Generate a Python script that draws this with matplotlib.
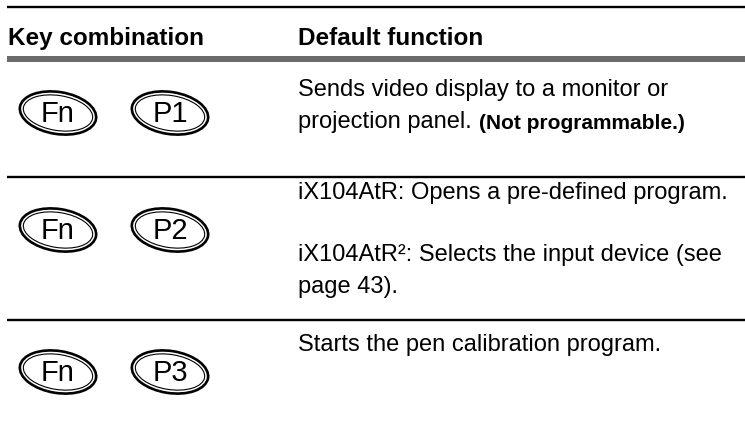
import matplotlib
matplotlib.use("Agg")
import matplotlib.pyplot as plt
from matplotlib.patches import Ellipse

plt.rcParams['font.family'] = ['Liberation Sans', 'DejaVu Sans']

# table content
headers = ["Key combination", "Default function"]
keys = [("Fn", "P1"), ("Fn", "P2"), ("Fn", "P3")]
row1_lines = ["Sends video display to a monitor or", "projection panel."]
row1_bold = "(Not programmable.)"
row2_lines = ["iX104AtR: Opens a pre-defined program.",
              "iX104AtR\u00b2: Selects the input device (see",
              "page 43)."]
row3_lines = ["Starts the pen calibration program."]

# layout (pixels)
W, H = 745, 430
key_x = [58, 170]
key_y = [113, 230, 372]
text_x = 298
row_baselines = [[96, 128], [199, 261, 293], [351]]
rule_y = [177, 320]

fig = plt.figure(figsize=(W / 100, H / 100), dpi=100)
ax = fig.add_axes([0, 0, 1, 1])
ax.set_xlim(0, W)
ax.set_ylim(H, 0)
ax.axis('off')

# top rule, header, grey rule
ax.plot([7, W], [7, 7], color='black', lw=1.7, solid_capstyle='butt')
ax.text(8, 45, headers[0], fontsize=17.5, fontweight='bold', va='baseline')
ax.text(text_x, 45, headers[1], fontsize=17.5, fontweight='bold', va='baseline')
ax.add_patch(plt.Rectangle((7, 56), W - 7, 6, color='#6b6b6b', lw=0))

for y in rule_y:
    ax.plot([7, W], [y, y], color='black', lw=1.7, solid_capstyle='butt')


def key(cx, cy, label):
    ax.add_patch(Ellipse((cx, cy), 77, 42, angle=9, fill=False,
                         ec='black', lw=1.9))
    ax.add_patch(Ellipse((cx, cy), 70, 35, angle=9, fill=False,
                         ec='black', lw=0.8))
    ax.text(cx, cy + 1, label, fontsize=21, ha='center', va='center')


for (a, b), cy in zip(keys, key_y):
    key(key_x[0], cy, a)
    key(key_x[1], cy, b)

# row 1
ax.text(text_x, row_baselines[0][0], row1_lines[0], fontsize=17, va='baseline')
t = ax.text(text_x, row_baselines[0][1], row1_lines[1], fontsize=17, va='baseline')
ax.annotate(row1_bold, xy=(1, 0), xycoords=t, xytext=(5, 0),
            textcoords='offset points', fontsize=15, fontweight='bold',
            va='bottom')

# row 2
for s, y in zip(row2_lines, row_baselines[1]):
    ax.text(text_x, y, s, fontsize=17, va='baseline')

# row 3
for s, y in zip(row3_lines, row_baselines[2]):
    ax.text(text_x, y, s, fontsize=17, va='baseline')

fig.savefig("out.png", dpi=100, facecolor='white')
